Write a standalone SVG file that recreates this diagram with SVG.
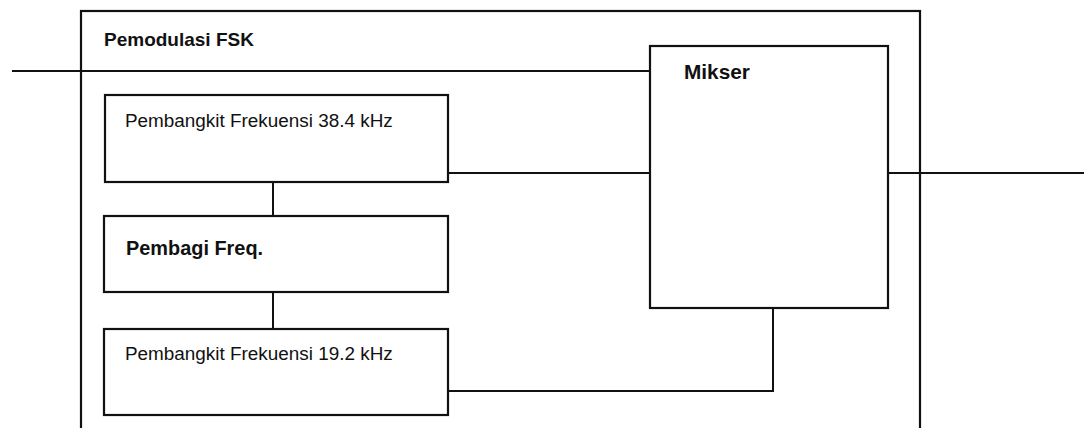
<svg xmlns="http://www.w3.org/2000/svg" width="1084" height="428" viewBox="0 0 1084 428">
<style>
.box{fill:none;stroke:#111;stroke-width:2.2}
.ln{fill:none;stroke:#111;stroke-width:2}
text{font-family:"Liberation Sans",Arial,sans-serif;fill:#111}
.b{font-weight:bold}
</style>
<rect width="1084" height="428" fill="#fff"/>
<g id="pemodulasi">
<rect class="box" x="81" y="11" width="839" height="440"/>
<text class="b" x="104" y="46" font-size="19">Pemodulasi FSK</text>
</g>
<g id="gen384">
<rect class="box" x="105" y="95" width="343" height="87"/>
<text x="125" y="127" font-size="18.9">Pembangkit Frekuensi 38.4 kHz</text>
</g>
<g id="pembagi">
<rect class="box" x="104" y="216" width="344" height="76"/>
<text class="b" x="126" y="255" font-size="19.9">Pembagi Freq.</text>
</g>
<g id="gen192">
<rect class="box" x="104" y="329" width="344" height="86"/>
<text x="125" y="360" font-size="18.9">Pembangkit Frekuensi 19.2 kHz</text>
</g>
<g id="mikser">
<rect class="box" x="650" y="46" width="238" height="262"/>
<text class="b" x="684" y="79" font-size="20.8">Mikser</text>
</g>
<g id="connectors">
<path class="ln" d="M12 71H650"/>
<path class="ln" d="M273 182V216"/>
<path class="ln" d="M273 292V329"/>
<path class="ln" d="M448 173H650"/>
<path class="ln" d="M888 173H1084"/>
<path class="ln" d="M448 391H773V308"/>
</g>
</svg>
